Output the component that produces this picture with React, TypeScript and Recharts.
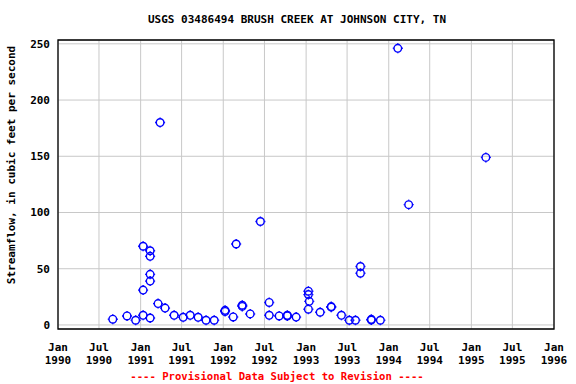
import React from 'react'
import {
  CartesianGrid,
  ReferenceArea,
  Scatter,
  ScatterChart,
  XAxis,
  YAxis
} from 'recharts'

// sample dates and streamflow (cfs)
const sampleDates = [
  '1990-08-31', '1990-11-02', '1990-12-10',
  '1991-01-12', '1991-01-12', '1991-01-12',
  '1991-02-12', '1991-02-12', '1991-02-12', '1991-02-12', '1991-02-12',
  '1991-03-19', '1991-03-28', '1991-04-19', '1991-05-29', '1991-07-08',
  '1991-08-08', '1991-09-12', '1991-10-17', '1991-11-22',
  '1992-01-09', '1992-01-09', '1992-02-14', '1992-02-27', '1992-03-25', '1992-03-25',
  '1992-04-29', '1992-06-13', '1992-07-22', '1992-07-22', '1992-09-04',
  '1992-10-10', '1992-10-10', '1992-11-18',
  '1993-01-11', '1993-01-11', '1993-01-11', '1993-01-15', '1993-03-04',
  '1993-04-22', '1993-04-22', '1993-06-06', '1993-07-11', '1993-08-07',
  '1993-08-29', '1993-08-29', '1993-10-16', '1993-10-16', '1993-11-25',
  '1994-02-10', '1994-03-30', '1995-03-06'
]
const flowValues = [
  5.1, 8, 4.2,
  70, 31, 8.6,
  66, 61, 45, 39, 6.2,
  19, 180, 15, 8.6, 6.8,
  8.6, 6.8, 4.2, 4.2,
  13, 12, 7.1, 72, 17.5, 16.5,
  9.8, 92, 20, 8.6, 8,
  8.6, 8, 7,
  30, 27, 14, 21, 11.3,
  16.3, 15.8, 8.6, 4.2, 4.2,
  52, 46, 4.4, 5, 4.2,
  246, 107, 149
]

const tickMonths = ['Jan', 'Jul', 'Jan', 'Jul', 'Jan', 'Jul', 'Jan', 'Jul', 'Jan', 'Jul', 'Jan', 'Jul', 'Jan']
const tickYears = ['1990', '1990', '1991', '1991', '1992', '1992', '1993', '1993', '1994', '1994', '1995', '1995', '1996']
const yTicks = [0, 50, 100, 150, 200, 250]

const toTime = (s: string) => {
  const [y, m, d] = s.split('-').map(Number)
  return Date.UTC(y, m - 1, d)
}

const xTicks = tickMonths.map((m, i) => Date.UTC(Number(tickYears[i]), m === 'Jan' ? 0 : 6, 1))
const xMin = xTicks[0]
const xMax = xTicks[xTicks.length - 1]
const yMin = -3.6
const yMax = 253.4

const points = sampleDates.map((d, i) => ({ t: toTime(d), q: flowValues[i] }))

const FONT = '"DejaVu Sans Mono", "Liberation Mono", monospace'

function XTick({ x, y, payload }: any) {
  const i = xTicks.indexOf(payload.value)
  return (
    <text x={x} y={y} textAnchor="middle" fontFamily={FONT} fontWeight="bold" fontSize={11} fill="#000">
      <tspan x={x} dy={14}>{tickMonths[i]}</tspan>
      <tspan x={x} dy={13}>{tickYears[i]}</tspan>
    </text>
  )
}

function Marker({ cx, cy }: any) {
  if (cx == null || cy == null) return null
  return (
    <g stroke="#0000ff" strokeWidth={1.4} fill="none">
      <circle cx={cx} cy={cy} r={3.8} />
      <line x1={cx} y1={cy - 5} x2={cx} y2={cy - 4} />
      <line x1={cx} y1={cy + 4} x2={cx} y2={cy + 5} />
      <line x1={cx - 5} y1={cy} x2={cx - 4} y2={cy} />
      <line x1={cx + 4} y1={cy} x2={cx + 5} y2={cy} />
    </g>
  )
}

export default function App() {
  return (
    <div style={{ position: 'absolute', left: 0, top: 0, width: 576, height: 384, background: '#fff' }}>
      <ScatterChart width={576} height={384} margin={{ top: 40, right: 22, left: 0, bottom: 0 }}>
        <CartesianGrid stroke="#c8c8c8" strokeWidth={1} vertical horizontal />
        <XAxis
          dataKey="t"
          type="number"
          domain={[xMin, xMax]}
          ticks={xTicks}
          interval={0}
          height={55}
          tick={<XTick />}
          tickLine={false}
          axisLine={false}
          allowDataOverflow
        />
        <YAxis
          dataKey="q"
          type="number"
          domain={[yMin, yMax]}
          ticks={yTicks}
          interval={0}
          width={58}
          tickSize={0}
          tickMargin={8}
          tickLine={false}
          axisLine={false}
          tick={{ fontFamily: FONT, fontWeight: 'bold', fontSize: 11, fill: '#000' }}
          allowDataOverflow
        />
        <ReferenceArea x1={xMin} x2={xMax} y1={yMin} y2={yMax} fill="none" stroke="#000" strokeWidth={1.3} />
        <Scatter data={points} shape={<Marker />} isAnimationActive={false} />
        <text x={297} y={23} textAnchor="middle" fontFamily={FONT} fontWeight="bold" fontSize={11} fill="#000">
          USGS 03486494 BRUSH CREEK AT JOHNSON CITY, TN
        </text>
        <text
          x={15}
          y={165}
          transform="rotate(-90 15 165)"
          textAnchor="middle"
          fontFamily={FONT}
          fontWeight="bold"
          fontSize={11}
          fill="#000"
        >
          Streamflow, in cubic feet per second
        </text>
        <text x={277} y={380} textAnchor="middle" fontFamily={FONT} fontWeight="bold" fontSize={10.6} fill="#ff0000">
          ---- Provisional Data Subject to Revision ----
        </text>
      </ScatterChart>
    </div>
  )
}
